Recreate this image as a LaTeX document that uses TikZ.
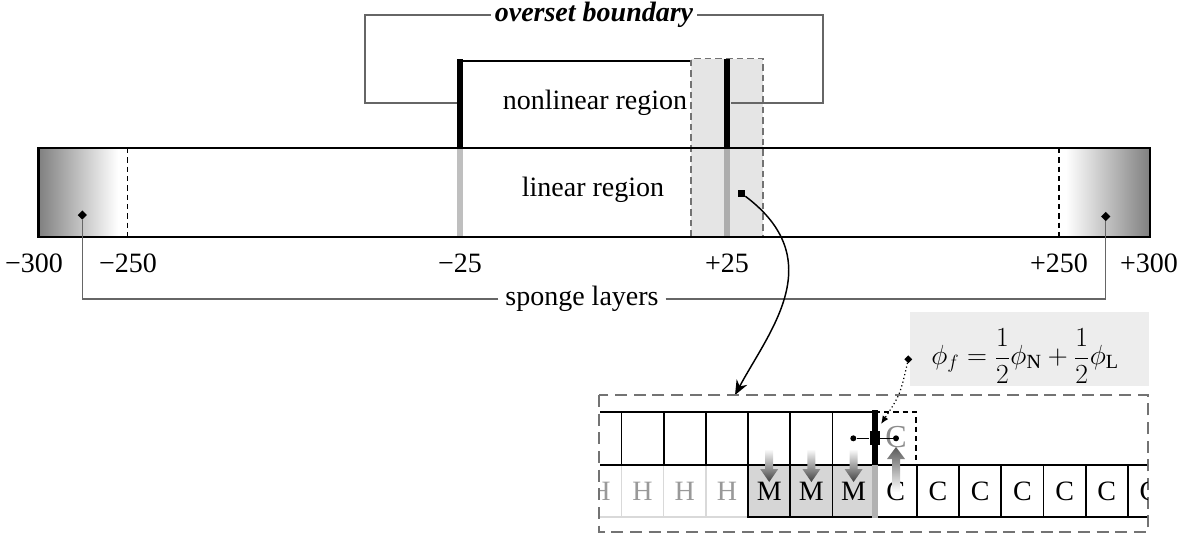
\documentclass[tikz,border=0pt]{standalone}
\usepackage{fontspec}
\setmainfont{Liberation Serif}
\usetikzlibrary{arrows.meta,shapes.geometric}
\begin{document}
\begin{tikzpicture}[x=0.75pt,y=-0.75pt,
  lbl/.style={font=\fontsize{21pt}{24pt}\selectfont, inner sep=1pt},
  guide/.style={draw=black!60, line width=0.8pt},
  dmark/.style={diamond, fill=black, inner sep=0pt, minimum size=7pt},
  smark/.style={rectangle, fill=black, inner sep=0pt, minimum size=5pt},
  bandbox/.style={draw=black!55, line width=0.9pt, dash pattern=on 5pt off 3pt},
  bar/.style={draw=black, line width=1.9pt},
  thickb/.style={draw=black, line width=4.5pt},
  thickg/.style={line width=4.5pt},
  cellH/.style={draw=black!15, line width=1.1pt},
  cellM/.style={draw=black, fill=black!16, line width=1.3pt},
  cellC/.style={draw=black, line width=1.3pt},
  grid/.style={draw=black, line width=1.3pt},
  dotm/.style={circle, fill=black, inner sep=0pt, minimum size=4.5pt},
]
\useasboundingbox (0,0) rectangle (1191,536);

% ---------- nonlinear region box ----------
\draw[bar, line width=1.5pt] (459.7,61) -- (727,61);

% ---------- overlap band around +25 ----------
\fill[black!10] (691,58.5) rectangle (763,237);
\draw[bandbox] (691,237) -- (691,58.5) -- (763,58.5) -- (763,237);

% ---------- sponge layers (shaded ends) ----------
\shade[left color=black!50, right color=white] (38.3,148) rectangle (118,237);
\shade[left color=white, right color=black!50] (1066,148) rectangle (1150,237);
\draw[line width=1pt, dash pattern=on 4pt off 3pt] (127.7,148) -- (127.7,237);
\draw[line width=1pt, dash pattern=on 4pt off 3pt] (1059,148) -- (1059,237);

% ---------- overset boundaries ----------
\draw[thickg, draw=black!25] (459.7,148) -- (459.7,236);
\draw[thickg, draw=black!32] (727,148) -- (727,236);
\draw[thickb] (459.7,59) -- (459.7,148);
\draw[thickb] (727,59) -- (727,148);

% ---------- main domain ----------
\draw[bar] (38.3,148) rectangle (1150,237);

% ---------- region labels ----------
\node[lbl] (nl) at (595,103) {nonlinear region};
\node[lbl] (lin) at (593,190) {linear region};
\node[lbl, inner xsep=3pt, font=\fontsize{21pt}{24pt}\selectfont\bfseries\itshape] (ob) at (594,15) {overset boundary};
\coordinate (lb) at (456.5,103);
\coordinate (rb) at (730.5,103);
\draw[guide] (ob.west) -| (365,103) -- (lb);
\draw[guide] (ob.east) -| (823,103) -- (rb);

% ---------- axis labels ----------
\node[lbl] (m300) at (34,263) {−300};
\node[lbl] (m250) at (128,263) {−250};
\node[lbl] (m25) at (460,263) {−25};
\node[lbl] (p25) at (727,263) {+25};
\node[lbl] (p250) at (1059,263) {+250};
\node[lbl] (p300) at (1149,263) {+300};

% ---------- sponge layer callout ----------
\node[dmark] (dl) at (82.3,215) {};
\node[dmark] (dr) at (1105.7,216.5) {};
\node[lbl, inner xsep=5pt] (sp) at (582,299) {sponge layers};
\draw[guide] (sp.west) -| (dl);
\draw[guide] (sp.east) -| (dr);

% ---------- zoom arrow ----------
\node[smark] (sq) at (741.7,193.5) {};
\coordinate (ins) at (735,395);
\draw[line width=1.1pt, -{Stealth[length=11pt,width=9pt]}] (sq) .. controls (830,260) and (770,330) .. (ins);

% ---------- detail: overlapping cells ----------
\draw[draw=black!55, line width=1.1pt, dash pattern=on 9pt off 5pt] (599,395) rectangle (1148,532);

\begin{scope}
  \clip (600,462) rectangle (1147,521);
  \foreach \k in {-1,0,1,2}{
    \draw[cellH] ({621.5+42.2*\k},465) rectangle ({663.7+42.2*\k},517);
    \node[lbl, text=black!40] (h\k) at ({642.6+42.2*\k},491) {H};
  }
  \foreach \k in {3,4,5}{
    \draw[cellM] ({621.5+42.2*\k},465) rectangle ({663.7+42.2*\k},517);
    \node[lbl] (m\k) at ({642.6+42.2*\k},491) {M};
  }
  \foreach \k in {6,...,12}{
    \draw[cellC] ({621.5+42.2*\k},465) rectangle ({663.7+42.2*\k},517);
    \node[lbl] (c\k) at ({642.6+42.2*\k},491) {C};
  }
\end{scope}

% top (nonlinear) row
\draw[grid] (600,412) -- (874.7,412);
\draw[grid] (600,465) -- (1147,465);
\foreach \k in {0,...,5}{
  \draw[grid] ({621.5+42.2*\k},412) -- ({621.5+42.2*\k},465);
}
\draw[thickb] (874.7,410) -- (874.7,465);
\draw[thickg, draw=black!30] (874.7,465) -- (874.7,518);

% interpolation stencil
\draw[black, line width=0.9pt, dash pattern=on 4pt off 3pt] (874.7,412) -- (916,412) -- (916,465);
\node[lbl, text=black!45, font=\fontsize{24pt}{26pt}\selectfont] (cg) at (896,437) {C};
\node[dotm] (pa) at (853.3,438.3) {};
\node[dotm] (pb) at (896,438.3) {};
\node[rectangle, fill=black, inner sep=0pt, minimum width=7.5pt, minimum height=10.5pt] (fc) at (874.7,438.3) {};
\draw[line width=0.9pt] (pa) -- (fc) -- (pb);

% transfer arrows (shaded)
\foreach \x in {769.2,811.4,853.6}{
  \shade[top color=white, bottom color=black!75]
    (\x-4,449) -- (\x+4,449) -- (\x+4,469) -- (\x+9,469) -- (\x,482) -- (\x-9,469) -- (\x-4,469) -- cycle;
}
\shade[top color=black!65, bottom color=white]
  (892,492) -- (900,492) -- (900,459) -- (905,459) -- (896,447) -- (887,459) -- (892,459) -- cycle;

% ---------- face value formula ----------
\fill[black!7] (910,311.7) rectangle (1149.3,386);
\node[font=\fontsize{21.5pt}{24pt}\selectfont, inner sep=1pt] (fm) at (1025,356) {$\phi_f = \displaystyle\frac{1}{2}\phi_{\mathrm{N}} + \frac{1}{2}\phi_{\mathrm{L}}$};
\node[dmark, minimum size=6pt] (fd) at (908.3,359.3) {};
\coordinate (ft) at (881,424);
\draw[line width=0.9pt, dotted, -{Latex[length=6pt,width=5pt]}] (fd) .. controls (900,395) .. (ft);

\end{tikzpicture}
\end{document}
